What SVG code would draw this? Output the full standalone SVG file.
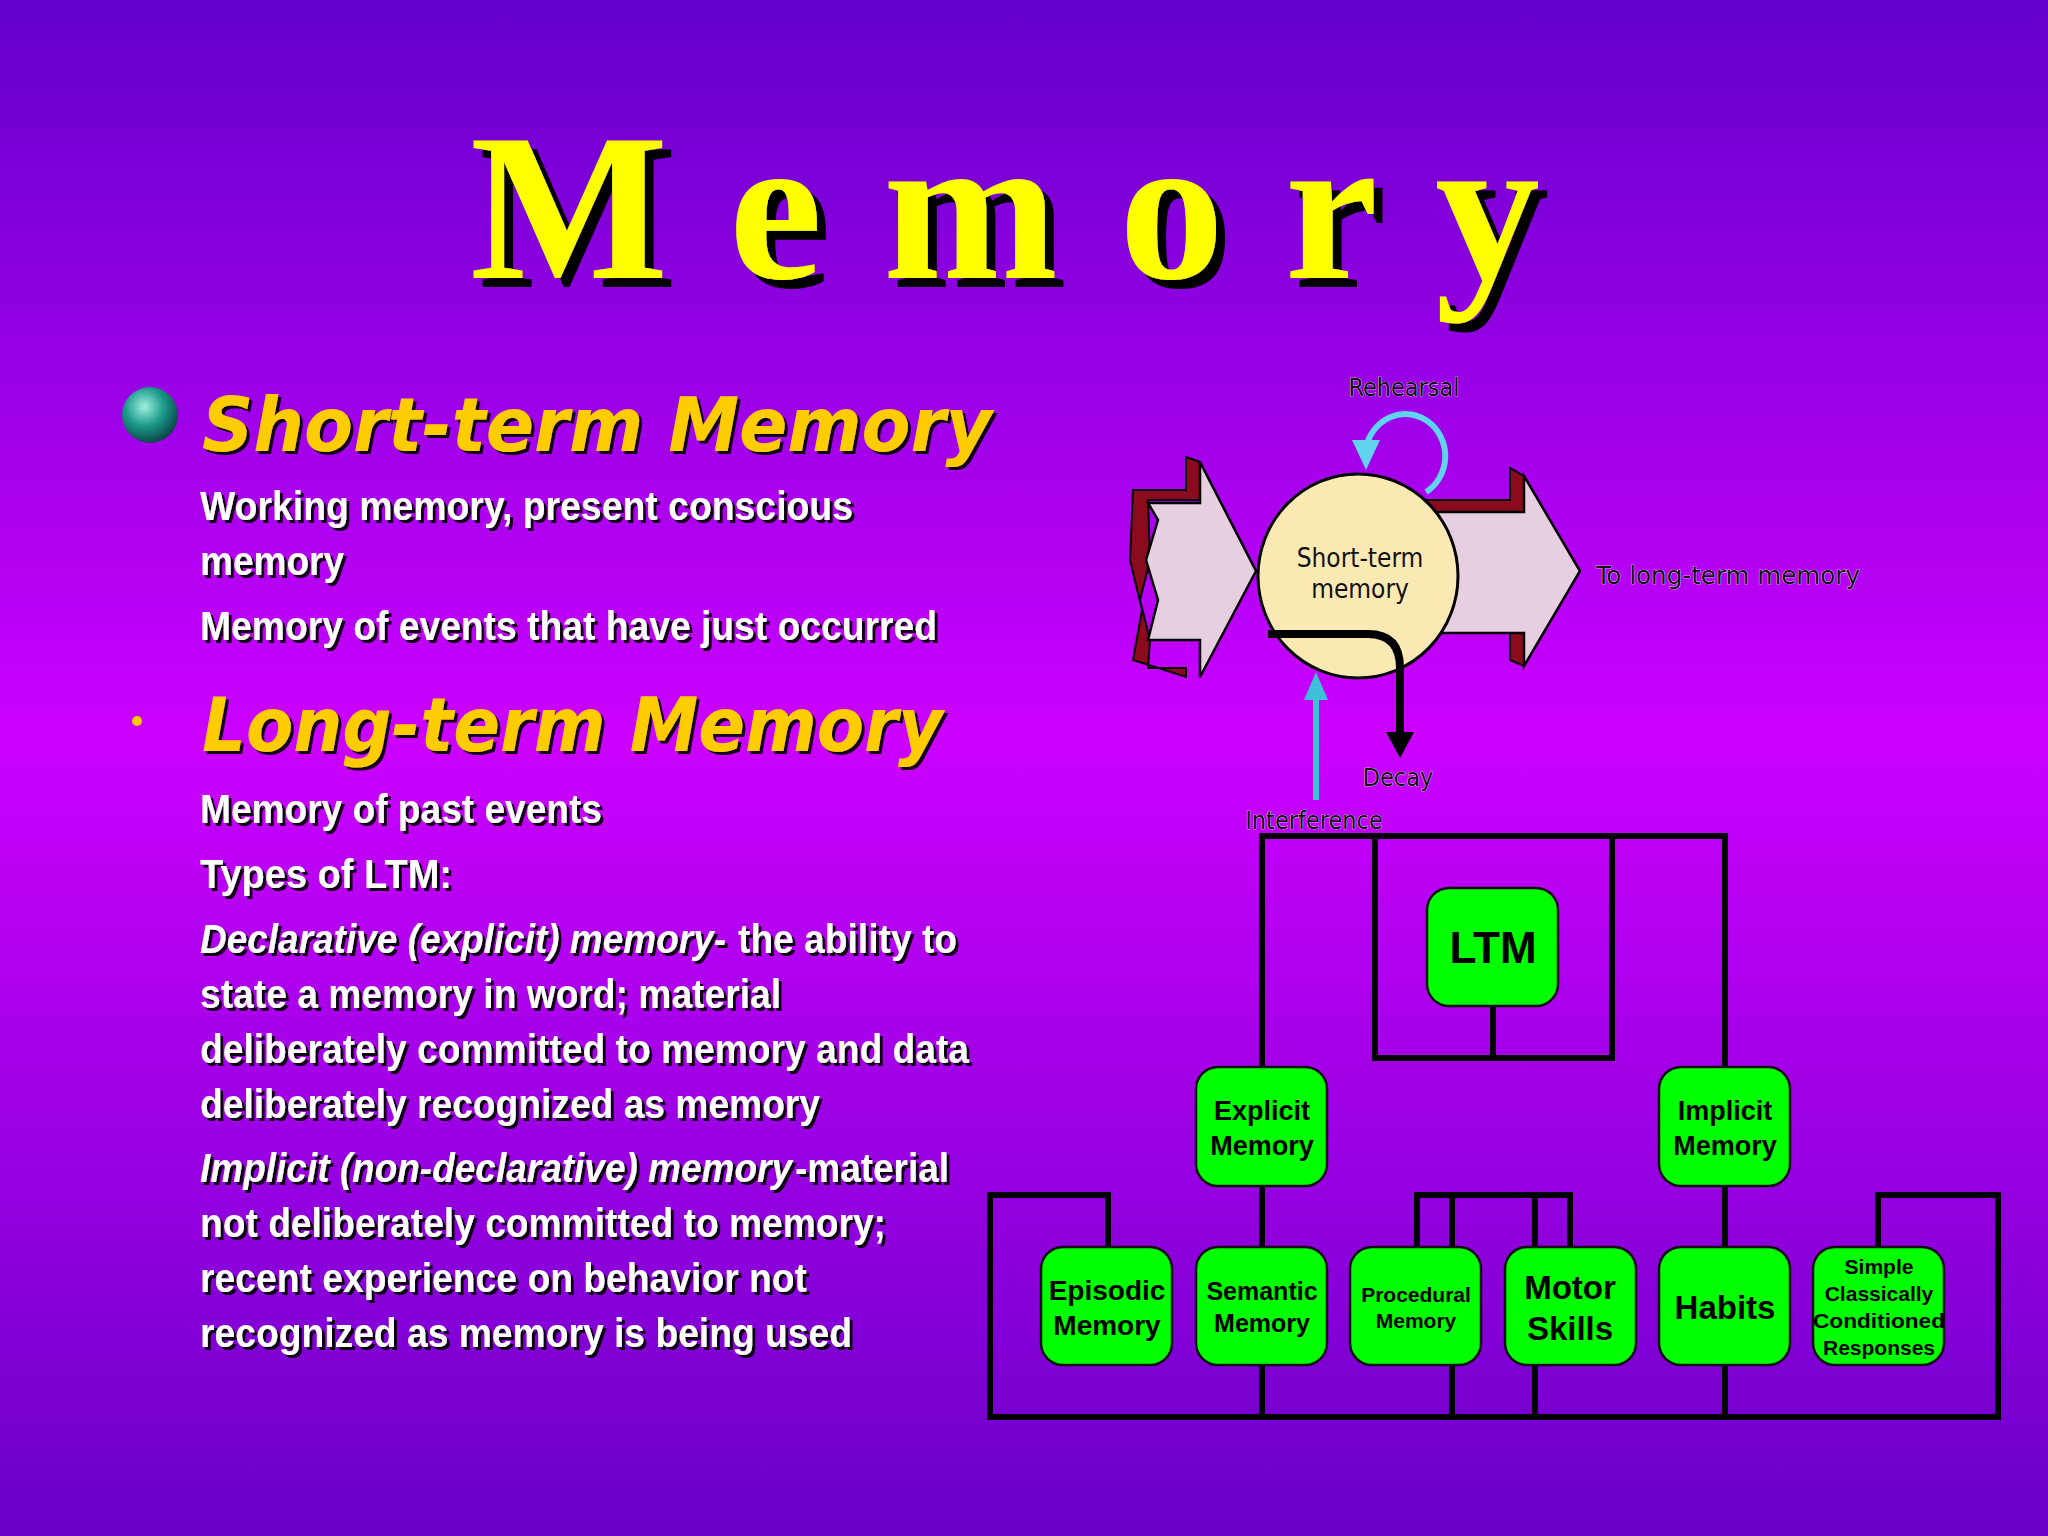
<svg xmlns="http://www.w3.org/2000/svg" width="2048" height="1536" viewBox="0 0 2048 1536">
<defs>
<linearGradient id="bg" x1="0" y1="0" x2="0" y2="1">
<stop offset="0" stop-color="#6400cc"/>
<stop offset="0.48" stop-color="#cc00ff"/>
<stop offset="1" stop-color="#6a00c8"/>
</linearGradient>
<radialGradient id="sph" cx="0.4" cy="0.35" r="0.7">
<stop offset="0" stop-color="#9ff0e0"/>
<stop offset="0.5" stop-color="#1a9a8a"/>
<stop offset="1" stop-color="#0a3a40"/>
</radialGradient>
<filter id="sh" x="-5%" y="-20%" width="110%" height="150%">
<feDropShadow dx="3" dy="3" stdDeviation="0.5" flood-color="#000" flood-opacity="0.9"/>
</filter>
<filter id="shBig" x="-5%" y="-20%" width="115%" height="150%">
<feDropShadow dx="9" dy="9" stdDeviation="0" flood-color="#000"/>
</filter>
</defs>
<style>
.body{font-family:"Liberation Sans",Arial,sans-serif;font-weight:bold;font-size:40px;fill:#fff}
.it{font-style:italic}
.head{font-family:"DejaVu Sans",sans-serif;font-weight:bold;font-style:italic;font-size:74px;fill:#ffcc00}
.lbl{font-family:"DejaVu Sans Condensed","DejaVu Sans",sans-serif;font-size:25px;fill:#111;stroke:#fff;stroke-width:0.6;paint-order:stroke}
.box{fill:#00ff00;stroke:#111;stroke-width:2.5}
.bt{font-family:"Liberation Sans",Arial,sans-serif;font-weight:bold;fill:#000;text-anchor:middle}
.ln{fill:none;stroke:#000;stroke-width:6}
</style>
<rect width="2048" height="1536" fill="url(#bg)"/>
<text x="470" y="278" font-family="Liberation Serif,serif" font-weight="bold" font-size="210" fill="#ffff00" filter="url(#shBig)" textLength="1070" lengthAdjust="spacing">M e m o r y</text>

<g id="text-stm">
<circle cx="150" cy="415" r="28" fill="url(#sph)"/>
<text class="head" x="202" y="451" textLength="790" lengthAdjust="spacingAndGlyphs" filter="url(#sh)">Short-term Memory</text>
<g class="body" filter="url(#sh)">
<text x="200" y="520" textLength="653" lengthAdjust="spacingAndGlyphs">Working memory, present conscious</text>
<text x="200" y="575" textLength="144" lengthAdjust="spacingAndGlyphs">memory</text>
<text x="200" y="640" textLength="737" lengthAdjust="spacingAndGlyphs">Memory of events that have just occurred</text>
</g>
</g>
<g id="text-ltm">
<circle cx="137" cy="721" r="5" fill="#ffcc00"/>
<text class="head" x="202" y="751" textLength="741" lengthAdjust="spacingAndGlyphs" filter="url(#sh)">Long-term Memory</text>
<g class="body" filter="url(#sh)">
<text x="200" y="823" textLength="402" lengthAdjust="spacingAndGlyphs">Memory of past events</text>
<text x="200" y="888" textLength="252" lengthAdjust="spacingAndGlyphs">Types of LTM:</text>
<text class="it" x="200" y="953" textLength="526" lengthAdjust="spacingAndGlyphs">Declarative (explicit) memory-</text>
<text x="738" y="953" textLength="219" lengthAdjust="spacingAndGlyphs">the ability to</text>
<text x="200" y="1008" textLength="581" lengthAdjust="spacingAndGlyphs">state a memory in word; material</text>
<text x="200" y="1063" textLength="769" lengthAdjust="spacingAndGlyphs">deliberately committed to memory and data</text>
<text x="200" y="1118" textLength="620" lengthAdjust="spacingAndGlyphs">deliberately recognized as memory</text>
<text class="it" x="200" y="1182" textLength="592" lengthAdjust="spacingAndGlyphs">Implicit (non-declarative) memory</text>
<text x="795" y="1182" textLength="154" lengthAdjust="spacingAndGlyphs">-material</text>
<text x="200" y="1237" textLength="686" lengthAdjust="spacingAndGlyphs">not deliberately committed to memory;</text>
<text x="200" y="1292" textLength="607" lengthAdjust="spacingAndGlyphs">recent experience on behavior not</text>
<text x="200" y="1347" textLength="652" lengthAdjust="spacingAndGlyphs">recognized as memory is being used</text>
</g>
</g>

<g id="stm-diagram">
<g id="in-arrow">
<polygon points="1133,490 1186,490 1186,457 1200,462 1200,500 1148,500 1150,560 1140,600 1150,640 1148,668 1186,668 1186,677 1133,660 1142,610 1130,560" fill="#8b0a1e" stroke="#000" stroke-width="2"/>
<polygon points="1148,503 1200,503 1200,462 1256,571 1200,677 1200,640 1148,640 1158,600 1146,560 1158,520" fill="#e6cfe0" stroke="#000" stroke-width="2.5"/>
</g>
<g id="out-arrow">
<polygon points="1420,500 1510,500 1510,468 1524,476 1524,512 1420,512" fill="#8b0a1e" stroke="#000" stroke-width="2"/>
<polygon points="1510,633 1524,633 1524,666 1510,660" fill="#8b0a1e" stroke="#000" stroke-width="2"/>
<polygon points="1420,512 1524,512 1524,476 1580,571 1524,666 1524,633 1420,633" fill="#e6cfe0" stroke="#000" stroke-width="2.5"/>
</g>
<g id="stm-node">
<ellipse cx="1358" cy="576" rx="100" ry="102" fill="#fbe9b4" stroke="#000" stroke-width="3"/>
<text x="1360" y="567" font-family="DejaVu Sans Condensed,DejaVu Sans,sans-serif" font-size="26" text-anchor="middle" fill="#111">Short-term</text>
<text x="1360" y="598" font-family="DejaVu Sans Condensed,DejaVu Sans,sans-serif" font-size="26" text-anchor="middle" fill="#111">memory</text>
</g>
<g id="stm-connectors">
<path d="M1426,492 A40,42 0 1 0 1366,448" fill="none" stroke="#5fd3f0" stroke-width="6"/>
<polygon points="1352,440 1380,440 1366,470" fill="#5fd3f0"/>
<path d="M1268,634 L1368,634 Q1400,634 1400,668 L1400,735" fill="none" stroke="#000" stroke-width="8"/>
<polygon points="1386,732 1414,732 1400,758" fill="#000"/>
<line x1="1316" y1="800" x2="1316" y2="695" stroke="#3ec0d8" stroke-width="6"/>
<polygon points="1304,700 1328,700 1316,672" fill="#3ec0d8"/>
</g>
<text class="lbl" x="1404" y="396" text-anchor="middle">Rehearsal</text>
<text class="lbl" x="1596" y="584" textLength="264" lengthAdjust="spacingAndGlyphs">To long-term memory</text>
<text class="lbl" x="1398" y="786" text-anchor="middle">Decay</text>
<text class="lbl" x="1314" y="829" text-anchor="middle">Interference</text>
</g>

<g id="connectors" class="ln">
<polyline points="1262,1067 1262,836 1725,836 1725,1067"/>
<polyline points="1375,836 1375,1058 1612,1058 1612,836"/>
<line x1="1493" y1="1006" x2="1493" y2="1058"/>
<line x1="1262" y1="1186" x2="1262" y2="1247"/>
<line x1="1725" y1="1186" x2="1725" y2="1247"/>
<polyline points="1108,1247 1108,1195 990,1195 990,1417 1998,1417 1998,1195 1878,1195 1878,1247"/>
<polyline points="1417,1247 1417,1195 1570,1195 1570,1247"/>
<line x1="1452" y1="1195" x2="1452" y2="1247"/>
<line x1="1535" y1="1195" x2="1535" y2="1247"/>
<line x1="1262" y1="1365" x2="1262" y2="1417"/>
<line x1="1452" y1="1365" x2="1452" y2="1417"/>
<line x1="1535" y1="1365" x2="1535" y2="1417"/>
<line x1="1725" y1="1365" x2="1725" y2="1417"/>
</g>

<g id="ltm"><rect class="box" x="1427" y="888" width="131" height="118" rx="22"/><text class="bt" x="1493" y="963" font-size="44">LTM</text></g>
<g id="explicit"><rect class="box" x="1196" y="1067" width="131" height="119" rx="22"/><text class="bt" x="1262" y="1120" font-size="27">Explicit</text><text class="bt" x="1262" y="1155" font-size="27">Memory</text></g>
<g id="implicit"><rect class="box" x="1659" y="1067" width="131" height="119" rx="22"/><text class="bt" x="1725" y="1120" font-size="27">Implicit</text><text class="bt" x="1725" y="1155" font-size="27">Memory</text></g>
<g id="episodic"><rect class="box" x="1041" y="1247" width="131" height="118" rx="22"/><text class="bt" x="1107" y="1300" font-size="28">Episodic</text><text class="bt" x="1107" y="1335" font-size="28">Memory</text></g>
<g id="semantic"><rect class="box" x="1196" y="1247" width="131" height="118" rx="22"/><text class="bt" x="1262" y="1300" font-size="25">Semantic</text><text class="bt" x="1262" y="1332" font-size="25">Memory</text></g>
<g id="procedural"><rect class="box" x="1350" y="1247" width="131" height="118" rx="22"/><text class="bt" x="1416" y="1302" font-size="21">Procedural</text><text class="bt" x="1416" y="1328" font-size="21">Memory</text></g>
<g id="motor"><rect class="box" x="1505" y="1247" width="131" height="118" rx="22"/><text class="bt" x="1570" y="1299" font-size="33">Motor</text><text class="bt" x="1570" y="1340" font-size="33">Skills</text></g>
<g id="habits"><rect class="box" x="1659" y="1247" width="131" height="118" rx="22"/><text class="bt" x="1725" y="1319" font-size="33">Habits</text></g>
<g id="simple"><rect class="box" x="1813" y="1247" width="131" height="118" rx="22"/><text class="bt" x="1879" y="1274" font-size="21">Simple</text><text class="bt" x="1879" y="1301" font-size="21">Classically</text><text class="bt" x="1879" y="1328" font-size="21" textLength="132" lengthAdjust="spacingAndGlyphs">Conditioned</text><text class="bt" x="1879" y="1355" font-size="21">Responses</text></g>
</svg>
